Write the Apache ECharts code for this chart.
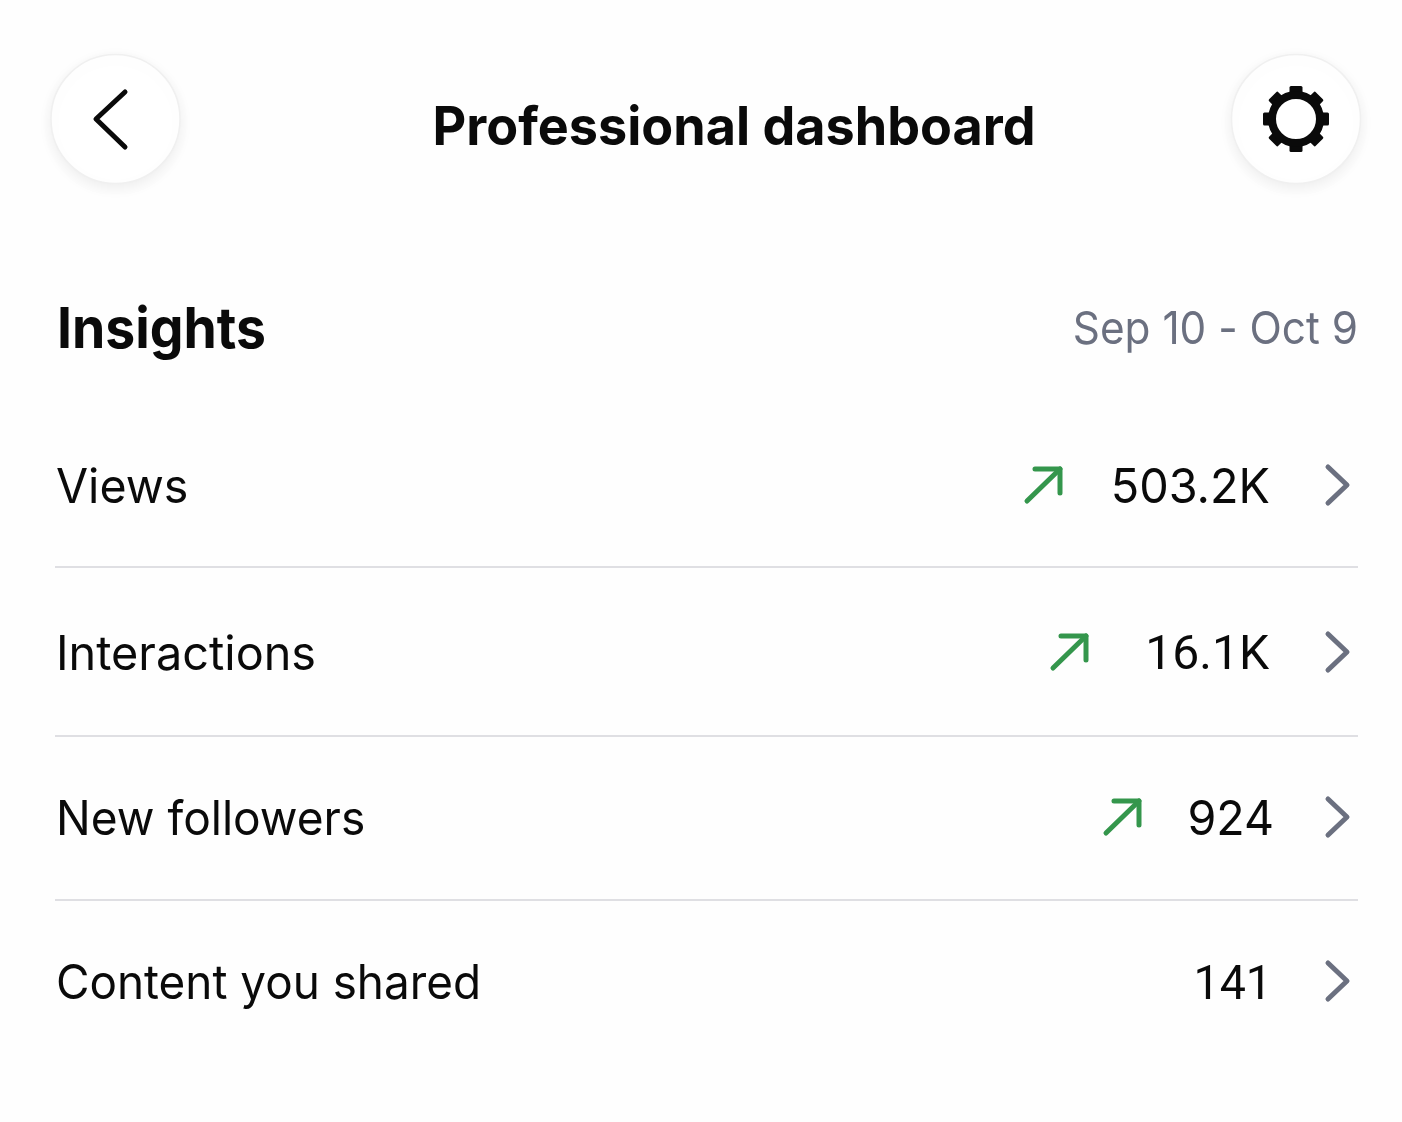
<!DOCTYPE html>
<html>
<head>
<meta charset="utf-8">
<title>Professional dashboard</title>
<script src="https://cdn.jsdelivr.net/npm/echarts@6/dist/echarts.min.js"></script>
<style>
  html, body { margin: 0; padding: 0; background: #fefefe; }
  #main { width: 1402px; height: 1122px; }
</style>
</head>
<body>
<div id="main"></div>
<script>
const titleText = 'Professional dashboard';
const sectionText = 'Insights';
const dateRange = 'Sep 10 - Oct 9';
const rowLabels = ['Views', 'Interactions', 'New followers', 'Content you shared'];
const rowValues = ['503.2K', '16.1K', '924', '141'];
const rowTrendUp = [true, true, true, false];

// layout of the rows
const rowCenters = [486, 653, 818, 982];
const valueRights = [1270, 1269, 1274, 1272];
const valueFonts = ['Inter', 'Roboto', 'Inter', 'Roboto'];
const valueScales = [0.975, 1, 0.97, 0.97];
const valueNudges = [3, 4, 3, 5];
const labelScales = [0.97, 0.975, 0.96, 0.955];
const arrowLefts = [1027, 1053, 1106, null];
const dividerYs = [567, 736, 900];

const graphic = [];

function text(x, y, str, size, weight, color, align, scaleX, font) {
  graphic.push({
    type: 'text', x: x, y: y, scaleX: scaleX || 1, silent: true,
    style: {
      text: str, fontFamily: font || 'Inter', fontSize: size, fontWeight: weight,
      fill: color, align: align || 'left', verticalAlign: 'middle'
    }
  });
}

function roundButton(cx, cy) {
  graphic.push({
    type: 'circle', shape: { cx: cx, cy: cy, r: 64.5 },
    style: {
      fill: '#ffffff', stroke: '#f0f0f0', lineWidth: 1.5,
      shadowBlur: 14, shadowOffsetY: 4, shadowColor: 'rgba(0,0,0,0.07)'
    }
  });
}

function polyline(points, color, width) {
  graphic.push({
    type: 'polyline', shape: { points: points },
    style: { stroke: color, lineWidth: width, lineCap: 'round', lineJoin: 'round', fill: null }
  });
}

// header
roundButton(115.5, 119);
roundButton(1296, 119);
polyline([[125, 92], [96, 119], [125, 147]], '#0a0a0a', 5);

// gear: ring plus 8 teeth
for (let i = 0; i < 8; i++) {
  graphic.push({
    type: 'rect', x: 1296, y: 119, rotation: i * Math.PI / 4,
    shape: { x: -6.5, y: -33, width: 13, height: 12, r: 1.5 },
    style: { fill: '#0a0a0a' }
  });
}
graphic.push({
  type: 'circle', shape: { cx: 1296, cy: 119, r: 24 },
  style: { fill: '#ffffff', stroke: '#0a0a0a', lineWidth: 8 }
});

text(734, 129, titleText, 54, 700, '#0a0a0a', 'center', 0.965);
text(57, 331, sectionText, 56, 700, '#0a0a0a', 'left', 0.955);
text(1358, 330, dateRange, 45, 400, '#6b7080', 'right', 0.94);

// rows
rowLabels.forEach(function (label, i) {
  const cy = rowCenters[i];
  text(56, cy + 3, label, 48, 400, '#0a0a0a', 'left', labelScales[i]);
  text(valueRights[i], cy + valueNudges[i], rowValues[i], 48, 400, '#0a0a0a', 'right', valueScales[i], valueFonts[i]);
  if (rowTrendUp[i]) {
    const x = arrowLefts[i];
    polyline([[x, cy + 15], [x + 33, cy - 17]], '#34964c', 5);
    polyline([[x + 8, cy - 17], [x + 33, cy - 17], [x + 33, cy + 7]], '#34964c', 5);
  }
  polyline([[1328, cy - 19], [1347, cy - 1], [1328, cy + 17]], '#6b7080', 5);
});

dividerYs.forEach(function (y) {
  graphic.push({
    type: 'line', shape: { x1: 55, y1: y, x2: 1358, y2: y },
    style: { stroke: '#d4d4da', lineWidth: 1.5 }
  });
});

const myChart = echarts.init(document.getElementById('main'));
myChart.setOption({
  animation: false,
  backgroundColor: '#fefefe',
  graphic: { elements: graphic }
});
</script>
</body>
</html>
